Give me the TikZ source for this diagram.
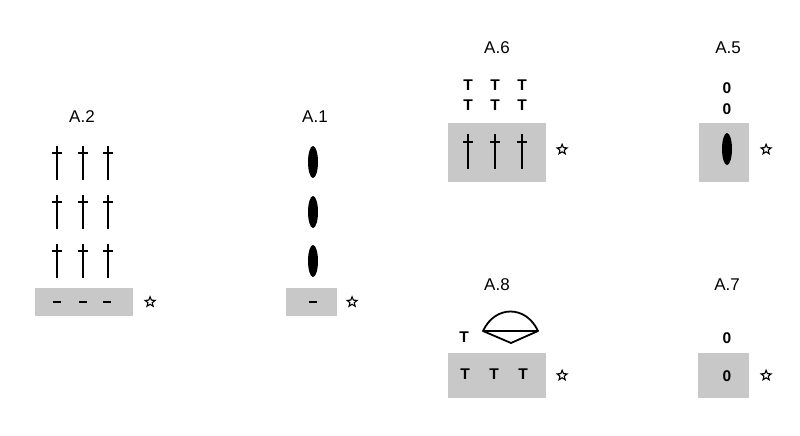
\documentclass[tikz,border=0pt]{standalone}
\usepackage{fontspec}
\setmainfont{Liberation Sans}
\usepackage{xcolor}
\usepackage{tikz}
\usetikzlibrary{shapes,arrows,positioning}
\definecolor{chartgray}{RGB}{200,200,200}

\begin{document}
\begin{tikzpicture}[
    x=1pt, y=-1pt,
    box/.style={draw=none, fill=chartgray, rectangle, inner sep=0pt},
    title/.style={font=\fontsize{17}{17}\selectfont},
    tsym/.style={font=\fontsize{15.5}{15.5}\selectfont\bfseries, inner sep=0pt},
    chain/.style={font=\fontsize{15.5}{15.5}\selectfont\bfseries, inner sep=0pt},
    starmark/.style={draw, star, star points=5, star point ratio=2.3, line width=1.1pt,
        minimum size=10.5pt, inner sep=0pt},
    dcstem/.style={line width=2.6pt},
    dcbar/.style={line width=1.6pt},
    flatstitch/.style={line width=2.6pt}
]
    \useasboundingbox (0,0) rectangle (800,436);

    % A.2
    \node[title] (a2title) at (82,117) {A.2};
    \node[box, minimum width=98pt, minimum height=28pt] (a2box) at (84,302) {};
    \node[starmark, right=13pt of a2box] (a2star) {};
    \foreach \x in {57,83,108}
        \foreach \t in {146,195,244} {
            \draw[dcstem] (\x,\t) -- (\x,\t+34);
            \draw[dcbar] (\x-5,\t+7) -- (\x+5,\t+7);
        }
    \foreach \x in {57,83,107}
        \draw[flatstitch] (\x-4,302) -- (\x+4,302);

    % A.1
    \node[title] (a1title) at (315,117) {A.1};
    \node[box, minimum width=51pt, minimum height=28pt] (a1box) at (311.5,302) {};
    \node[starmark, right=11pt of a1box] (a1star) {};
    \foreach \y in {162,212,261}
        \fill (313,\y) ellipse [x radius=5, y radius=16];
    \draw[flatstitch] (309,302) -- (317,302);

    % A.6
    \node[title] (a6title) at (497,48) {A.6};
    \node[box, minimum width=98pt, minimum height=59pt] (a6box) at (497,152.5) {};
    \node[starmark, right=12pt of a6box, yshift=3pt] (a6star) {};
    \foreach \x [count=\i] in {468,495,522} {
        \node[tsym] (a6ta\i) at (\x,85) {T};
        \node[tsym] (a6tb\i) at (\x,105) {T};
        \draw[dcstem] (\x,134) -- (\x,169);
        \draw[dcbar] (\x-5,142) -- (\x+5,142);
    }

    % A.5
    \node[title] (a5title) at (728,48) {A.5};
    \node[box, minimum width=50pt, minimum height=59pt] (a5box) at (724,152.5) {};
    \node[starmark, right=13pt of a5box, yshift=3pt] (a5star) {};
    \node[chain] (a5cha) at (727,88) {0};
    \node[chain] (a5chb) at (727,109) {0};
    \fill (727,149) ellipse [x radius=5, y radius=16];

    % A.8
    \node[title] (a8title) at (497,285) {A.8};
    \node[box, minimum width=98pt, minimum height=45pt] (a8box) at (497,375.5) {};
    \node[starmark, right=12pt of a8box] (a8star) {};
    \node[tsym] (a8top) at (464,337) {T};
    \foreach \x [count=\i] in {465,494,523}
        \node[tsym] (a8t\i) at (\x,374) {T};
    \draw[line width=1.8pt, line join=round]
        (483,331) .. controls (495,305) and (526,305) .. (538,331) -- (511,343) -- cycle;
    \draw[line width=1.8pt] (483,331) -- (538,331);

    % A.7
    \node[title] (a7title) at (727,285) {A.7};
    \node[box, minimum width=51pt, minimum height=45pt] (a7box) at (723.5,375.5) {};
    \node[starmark, right=13pt of a7box] (a7star) {};
    \node[chain] (a7cha) at (727,338) {0};
    \node[chain] (a7chb) at (727,376) {0};
\end{tikzpicture}
\end{document}
